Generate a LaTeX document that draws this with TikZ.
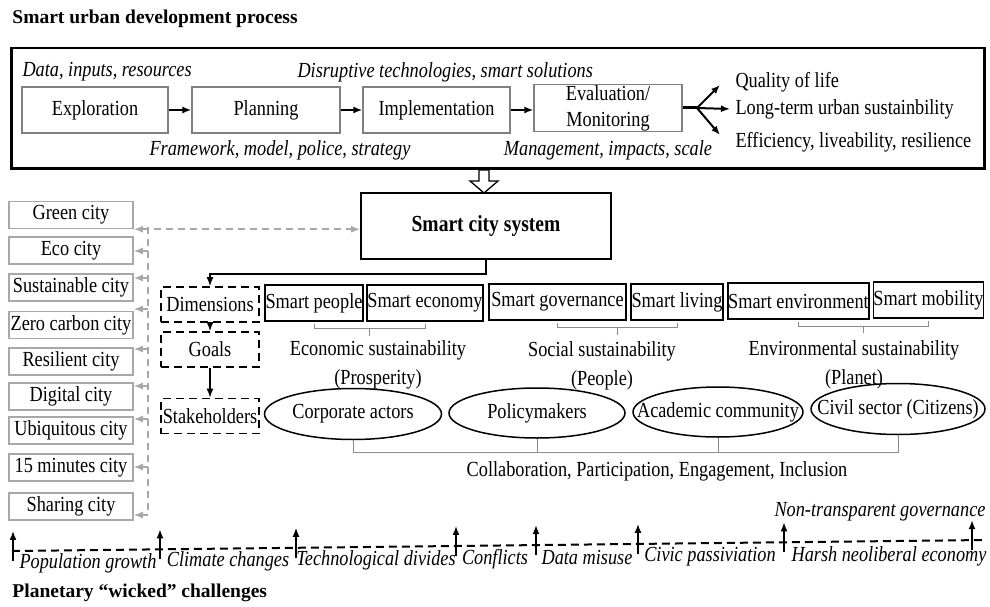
\documentclass[tikz,border=0pt]{standalone}
\usepackage{fontspec}
\setmainfont{Liberation Serif}[FakeStretch=0.85]
\newfontfamily\headfont{Liberation Serif}
\usetikzlibrary{arrows.meta, shapes.geometric, calc, positioning}
\definecolor{boxGrey}{HTML}{808080}
\definecolor{cityGrey}{HTML}{A8A8A8}
\definecolor{brkGrey}{HTML}{8C8C8C}
\newcommand{\diagfont}{\fontsize{21.5}{26}\selectfont}
\tikzset{
  % pixel-sized units: 1 unit = 1pt, y runs downwards
  every picture/.append style = {line width=1pt, >={Latex[length=9pt,width=7pt]}},
  stepbox/.style  = {draw=boxGrey, line width=1.2pt, minimum height=46pt, inner sep=0pt},
  citybox/.style  = {draw=cityGrey, line width=1.5pt, minimum width=124pt, minimum height=27pt, inner sep=0pt},
  smartbox/.style = {draw, line width=1.6pt, minimum height=36pt, inner sep=0pt},
  dimbox/.style   = {draw, line width=1.6pt, dash pattern=on 8pt off 5pt,
                     minimum width=98pt, minimum height=35pt, inner sep=0pt},
  actor/.style    = {ellipse, draw, line width=1.5pt, inner sep=0pt},
  brk/.style      = {brkGrey, line width=1pt},
  gdash/.style    = {cityGrey, line width=1.6pt, dash pattern=on 7pt off 5pt},
  steparr/.style  = {->, line width=2pt},
  barr/.style     = {->, line width=1.5pt},
  chalarr/.style  = {->, line width=1.6pt},
  wdash/.style    = {line width=2pt, dash pattern=on 8pt off 5pt},
  head/.style     = {font=\fontsize{19.5}{22}\headfont\bfseries, inner sep=0pt, anchor=west},
  itl/.style      = {font=\diagfont\itshape, inner sep=0pt},
  plain/.style    = {inner sep=0pt},
}

\begin{document}
\begin{tikzpicture}[x=1pt, y=-1pt, font=\diagfont]
\useasboundingbox (0,0) rectangle (990,607);

% ---- development process ------------------------------------------------
\node[head] (ttl) at (12,19) {Smart urban development process};
\node[draw, line width=2.5pt, minimum width=973pt, minimum height=120pt,
      inner sep=0pt, anchor=north west] (proc) at (10,47) {};

\node[stepbox, minimum width=146pt] (expl) at (95,110) {Exploration};
\node[stepbox, minimum width=148pt] (plan) at (266,110) {Planning};
\node[stepbox, minimum width=147pt] (impl) at (436.5,110) {Implementation};
\node[stepbox, minimum width=148pt, minimum height=47pt, align=center] (eval) at (608,108)
  {Evaluation/\\Monitoring};
\draw[steparr] (expl) -- (plan);
\draw[steparr] (plan) -- (impl);
\draw[steparr] (impl.east) -- (impl.east -| eval.west);

\node[itl, anchor=west] (inp) at (22,72) {Data, inputs, resources};
\node[itl, anchor=west] (tech) at (297,72) {Disruptive technologies, smart solutions};
\node[itl] (frame) at (280,150) {Framework, model, police, strategy};
\node[itl] (mgmt) at (608,150) {Management, impacts, scale};

\node[plain, anchor=west] (out1) at (735,82) {Quality of life};
\node[plain, anchor=west] (out2) at (735,109) {Long-term urban sustainbility};
\node[plain, anchor=west] (out3) at (735,142) {Efficiency, liveability, resilience};
\coordinate (jn) at (697,108);
\draw[line width=3pt] (eval.east) -- (jn);
\draw[steparr] (jn) -- ([xshift=-15pt,yshift=-3pt]out1.west);
\draw[steparr] (jn) -- ([xshift=-5pt]out2.west);
\draw[steparr] (jn) -- ([xshift=-15pt,yshift=7pt]out3.west);

% hollow arrow into the system
\draw[line width=1.3pt, fill=white] (479,170) -- (489,170) -- (489,181) -- (498,181)
  -- (484,193) -- (470,181) -- (479,181) -- cycle;

% ---- smart city system ----------------------------------------------------
\node[draw, line width=2pt, minimum width=250pt, minimum height=66pt,
      font=\fontsize{23}{26}\selectfont\bfseries] (scs) at (486,226) {Smart city system};

\foreach \n/\y/\t in {gc/215/Green city, eco/250.5/Eco city, sus/287.5/Sustainable city,
                      zer/325/Zero carbon city, res/361.5/Resilient city, dig/396.5/Digital city,
                      ubi/430.5/Ubiquitous city, min/467.5/15 minutes city, sha/506.5/Sharing city}
  \node[citybox] (\n) at (71,\y) {\t};

\coordinate (trk) at (148,227);
\draw[gdash, <->] (gc.south east) -- (gc.south east -| scs.west);
\draw[gdash] (trk) -- (148,515);
\foreach \n/\y in {eco/251, sus/278, zer/309, res/349, dig/386, ubi/419, min/467, sha/515}
  \draw[gdash, ->] (148,\y) -- (\n.east |- 0,\y);

% ---- dimensions, goals, stakeholders ------------------------------------
\node[dimbox] (dim) at (210,304.5) {Dimensions};
\node[dimbox] (goal) at (210,349.5) {Goals};
\node[dimbox] (stk) at (210,416) {Stakeholders};
\draw[barr] (scs.south) -- ++(0,14) -| (dim.north);
\draw[barr] (dim) -- (goal);
\draw[barr] (goal) -- (stk);

\node[smartbox, minimum width=98pt]  (spp) at (314,303) {Smart people};
\node[smartbox, minimum width=116pt] (sec) at (425,303) {Smart economy};
\node[smartbox, minimum width=137pt] (sgv) at (557.5,302) {Smart governance};
\node[smartbox, minimum width=92pt]  (slv) at (677,302) {Smart living};
\node[smartbox, minimum width=137pt] (sen) at (798.5,301) {Smart environment};
\node[smartbox, minimum width=109pt] (smb) at (928.5,300) {Smart mobility};

\node[plain, align=center] (econ) at (378,365) {Economic sustainability\\[3pt](Prosperity)};
\node[plain, align=center] (soc) at (602,366) {Social sustainability\\[3pt](People)};
\node[plain, align=center] (envs) at (854,365) {Environmental sustainability\\[3pt](Planet)};
\draw[brk] ([yshift=-2pt]spp.south) -- ++(0,5) -| ([yshift=-2pt]sec.south);
\draw[brk] ($(spp.south)!.5!(sec.south)+(0,7)$) -- ++(0,7);
\draw[brk] ([yshift=-2pt]sgv.south) -- ++(0,5) -| ([yshift=-2pt]slv.south);
\draw[brk] ($(sgv.south)!.5!(slv.south)+(0,7)$) -- ++(0,7);
\draw[brk] ([yshift=-2pt]sen.south) -- ++(0,5) -| ([yshift=-2pt]smb.south);
\draw[brk] ($(sen.south)!.5!(smb.south)+(0,7)$) -- ++(0,7);

\node[actor, minimum width=177pt, minimum height=51pt, label=center:Corporate actors] (cor) at (353,414) {};
\node[actor, minimum width=176pt, minimum height=50pt, label=center:Policymakers] (pol) at (537,413) {};
\node[actor, minimum width=170pt, minimum height=50pt, label=center:Academic community] (aca) at (718,412) {};
\node[actor, minimum width=174pt, minimum height=51pt, label=center:Civil sector (Citizens)] (civ) at (898,409) {};
\draw[brk] (cor.south) |- (civ.south |- 0,452) -- (civ.south);
\foreach \n in {pol, aca}
  \draw[brk] (\n.south) -- (\n.south |- 0,452);
\node[plain] (coll) at (657,471) {Collaboration, Participation, Engagement, Inclusion};

% ---- planetary challenges -------------------------------------------------
\coordinate (wl) at (12,551);
\coordinate (wr) at (986,540);
\draw[wdash] (wl) -- (wr);
\foreach \i/\x in {1/13, 2/160, 3/296, 4/456, 5/536, 6/638, 7/784, 8/972} {
  \coordinate (pc\i) at ($(wl)!{(\x-12)/974}!(wr)$);
  \draw[chalarr] ([yshift=-10pt]pc\i) -- ([yshift=20pt]pc\i);
}
\node[itl] (popg) at (88,563) {Population growth};
\node[itl] (clim) at (228,561) {Climate changes};
\node[itl] (tdiv) at (376,560) {Technological divides};
\node[itl] (conf) at (495,559) {Conflicts};
\node[itl] (dmis) at (587,558) {Data misuse};
\node[itl] (civp) at (710,557) {Civic passiviation};
\node[itl] (hneo) at (889,556) {Harsh neoliberal economy};
\node[itl] (ntg) at (880,512) {Non-transparent governance};
\node[head] (ptl) at (12,593) {Planetary “wicked” challenges};
\end{tikzpicture}
\end{document}
